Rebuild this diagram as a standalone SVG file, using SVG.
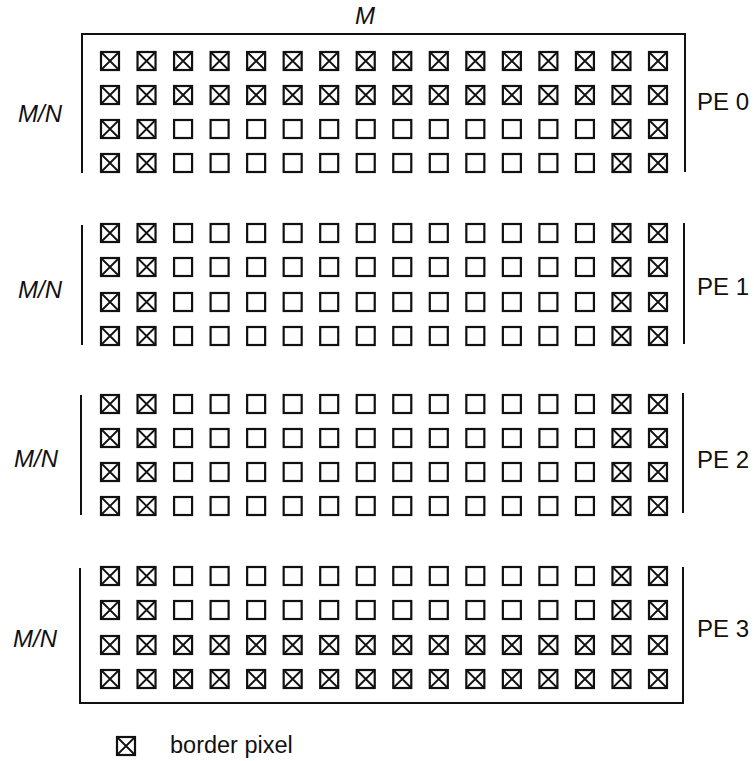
<svg xmlns="http://www.w3.org/2000/svg" width="754" height="761" viewBox="0 0 754 761">
<style>
  .px rect { fill: #fff; stroke: #111; stroke-width: 2.2; }
  .px path { fill: none; stroke: #111; stroke-width: 1.8; }
  .frame { fill: none; stroke: #111; stroke-width: 2; }
  text { font-family: "Liberation Sans", Arial, Helvetica, sans-serif; fill: #111; }
  .lbl { font-size: 24px; }
  .lg { font-size: 23.5px; }
  .it { font-size: 24px; font-style: italic; }
</style>
<defs>
  <g id="b" class="px"><rect x="-9" y="-9" width="18" height="18"/><path d="M-9,-9L9,9M9,-9L-9,9"/></g>
  <g id="i" class="px"><rect x="-9" y="-9" width="18" height="18"/></g>
  <g id="rowB">
    <use href="#b" x="110"/><use href="#b" x="146.53"/><use href="#b" x="183.07"/><use href="#b" x="219.6"/>
    <use href="#b" x="256.13"/><use href="#b" x="292.67"/><use href="#b" x="329.2"/><use href="#b" x="365.73"/>
    <use href="#b" x="402.27"/><use href="#b" x="438.8"/><use href="#b" x="475.33"/><use href="#b" x="511.87"/>
    <use href="#b" x="548.4"/><use href="#b" x="584.93"/><use href="#b" x="621.47"/><use href="#b" x="658"/>
  </g>
  <g id="rowE">
    <use href="#b" x="110"/><use href="#b" x="146.53"/><use href="#i" x="183.07"/><use href="#i" x="219.6"/>
    <use href="#i" x="256.13"/><use href="#i" x="292.67"/><use href="#i" x="329.2"/><use href="#i" x="365.73"/>
    <use href="#i" x="402.27"/><use href="#i" x="438.8"/><use href="#i" x="475.33"/><use href="#i" x="511.87"/>
    <use href="#i" x="548.4"/><use href="#i" x="584.93"/><use href="#b" x="621.47"/><use href="#b" x="658"/>
  </g>
</defs>
<rect width="754" height="761" fill="#fff"/>

<text id="labelM" class="it" x="365" y="24" text-anchor="middle">M</text>

<g id="connectors">
  <path class="frame" d="M82,173V34H685V172"/>
  <path class="frame" d="M82,225V345M684,223V344"/>
  <path class="frame" d="M81,395V515M683,393V513"/>
  <path class="frame" d="M80,568V703H683V567"/>
</g>

<g id="pe0">
  <use href="#rowB" y="61"/><use href="#rowB" y="95"/><use href="#rowE" y="129"/><use href="#rowE" y="163"/>
  <text class="it" x="62" y="122" text-anchor="end">M/N</text>
  <text class="lbl" x="697" y="110">PE 0</text>
</g>
<g id="pe1">
  <use href="#rowE" y="233"/><use href="#rowE" y="267"/><use href="#rowE" y="302"/><use href="#rowE" y="336"/>
  <text class="it" x="62" y="298" text-anchor="end">M/N</text>
  <text class="lbl" x="697" y="295">PE 1</text>
</g>
<g id="pe2">
  <use href="#rowE" y="404"/><use href="#rowE" y="438"/><use href="#rowE" y="472"/><use href="#rowE" y="506"/>
  <text class="it" x="58" y="467" text-anchor="end">M/N</text>
  <text class="lbl" x="697" y="468">PE 2</text>
</g>
<g id="pe3">
  <use href="#rowE" y="576"/><use href="#rowE" y="610"/><use href="#rowB" y="645"/><use href="#rowB" y="679"/>
  <text class="it" x="57" y="647" text-anchor="end">M/N</text>
  <text class="lbl" x="697" y="637">PE 3</text>
</g>

<g id="legend">
  <use href="#b" x="126" y="746"/>
  <text class="lg" x="170" y="753">border pixel</text>
</g>
</svg>
